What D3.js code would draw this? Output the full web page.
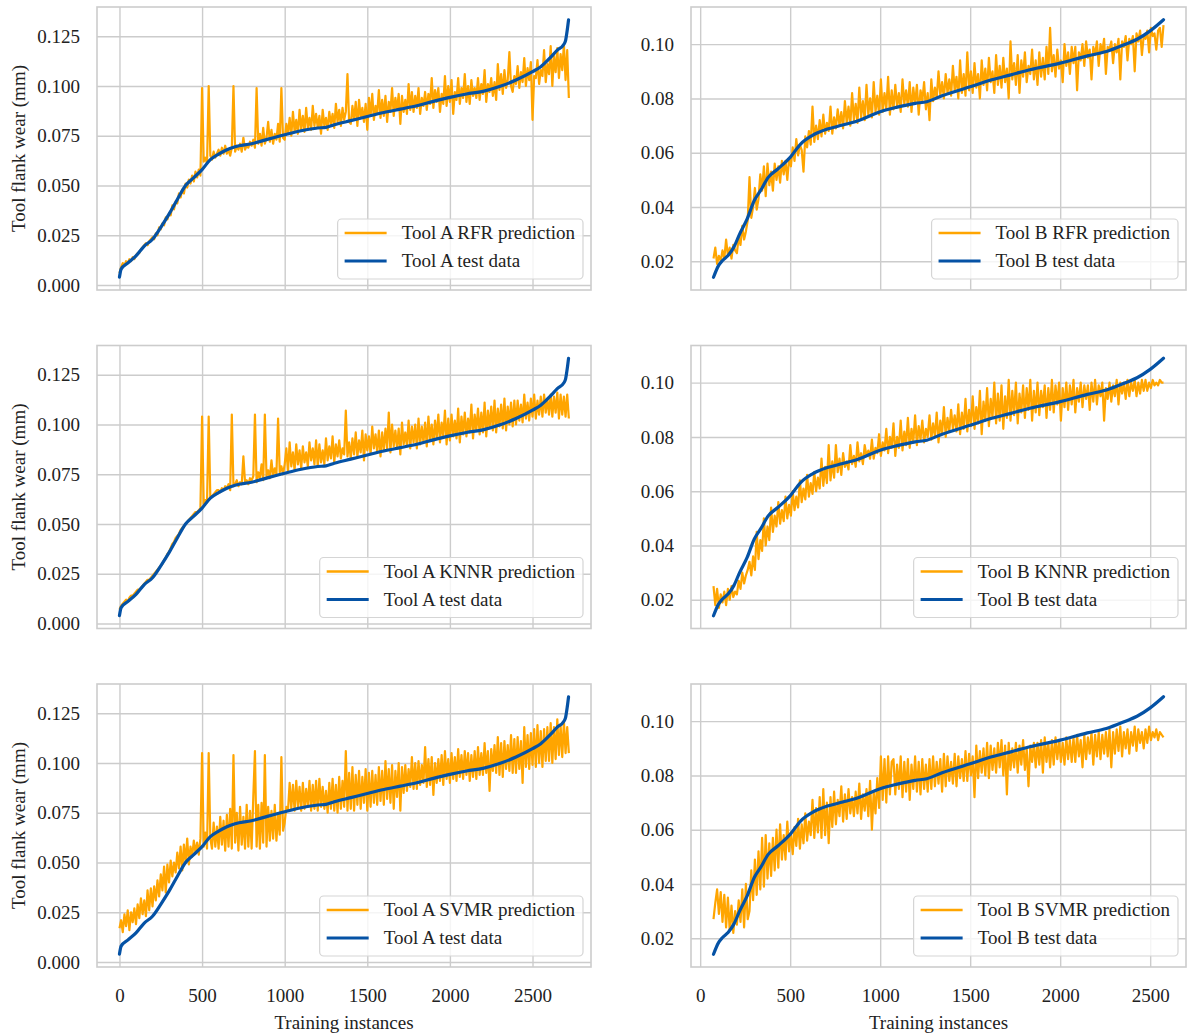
<!DOCTYPE html>
<html><head><meta charset="utf-8">
<script src="https://cdn.jsdelivr.net/npm/d3@7"></script>
<style>
html,body{margin:0;padding:0;background:#fff;}
svg{display:block;font-family:"Liberation Serif","Times New Roman",serif;}
</style></head>
<body><svg id="c" width="1192" height="1033"></svg>
<script>
// ---------- DATA ----------
const xTicks = [0, 500, 1000, 1500, 2000, 2500];
const yTicksA = [0, 0.025, 0.05, 0.075, 0.1, 0.125];
const yTicksB = [0.02, 0.04, 0.06, 0.08, 0.10];

// Tool A test data (blue)
const testAx = [0,10,50,100,150,200,250,300,350,400,450,500,550,600,650,700,800,900,1000,1100,1200,1250,1300,1400,1500,1600,1700,1800,1900,2000,2100,2200,2300,2400,2500,2550,2600,2650,2690,2700,2710,2718];
const testAy = [0.004,0.008,0.011,0.0146,0.0196,0.023,0.029,0.0356,0.043,0.050,0.054,0.058,0.063,0.0658,0.068,0.0695,0.071,0.0733,0.0755,0.0775,0.0789,0.0792,0.0805,0.0826,0.0847,0.0867,0.0884,0.0901,0.0923,0.0943,0.096,0.0973,0.0997,0.103,0.1072,0.1097,0.1136,0.118,0.121,0.1228,0.128,0.1332];

// Tool B test data (blue)
const testBx = [74,102,123,155,187,219,261,300,335,378,431,500,558,622,707,792,877,1000,1089,1195,1259,1344,1500,1620,1726,1832,2000,2151,2257,2363,2427,2500,2574];
const testBy = [0.0141,0.0184,0.0202,0.0221,0.0252,0.030,0.0356,0.0423,0.046,0.0509,0.054,0.0583,0.0632,0.0663,0.0687,0.0702,0.0718,0.0751,0.0767,0.0782,0.0788,0.081,0.0843,0.0869,0.0887,0.0906,0.093,0.0957,0.0973,0.100,0.1018,0.1049,0.109];

// predictions: Tool A read at instance 0,10,20,... ; Tool B at 74,84,94,...
const predAStart = 0, predAStep = 10;
const predBStart = 74, predBStep = 10;

const predA_RFR = [
0.006,0.009,0.011,0.010,0.012,0.011,0.013,0.012,0.014,0.013,0.015,0.016,0.016,0.018,0.019,0.020,0.021,0.020,0.022,0.023,
0.024,0.023,0.026,0.025,0.029,0.028,0.031,0.030,0.034,0.033,0.036,0.035,0.040,0.038,0.042,0.041,0.046,0.044,0.048,0.046,
0.051,0.049,0.053,0.051,0.055,0.052,0.057,0.054,0.058,0.055,0.099,0.062,0.064,0.061,0.100,0.065,0.063,0.067,0.064,0.066,
0.068,0.065,0.069,0.066,0.070,0.066,0.068,0.065,0.069,0.100,0.067,0.070,0.068,0.071,0.067,0.074,0.068,0.070,0.069,0.072,
0.070,0.073,0.069,0.099,0.071,0.076,0.070,0.079,0.071,0.074,0.082,0.072,0.078,0.071,0.076,0.073,0.081,0.072,0.099,0.074,
0.073,0.081,0.076,0.084,0.075,0.087,0.077,0.083,0.076,0.088,0.078,0.085,0.077,0.089,0.079,0.084,0.078,0.090,0.080,0.086,
0.079,0.085,0.076,0.088,0.080,0.084,0.078,0.087,0.081,0.086,0.079,0.091,0.082,0.088,0.080,0.089,0.083,0.087,0.106,0.082,
0.081,0.090,0.083,0.092,0.080,0.093,0.084,0.089,0.082,0.091,0.078,0.094,0.085,0.096,0.083,0.090,0.086,0.098,0.084,0.093,
0.085,0.095,0.082,0.092,0.087,0.099,0.085,0.094,0.088,0.096,0.081,0.095,0.087,0.093,0.086,0.101,0.088,0.097,0.087,0.095,
0.089,0.099,0.086,0.094,0.090,0.097,0.088,0.096,0.091,0.104,0.089,0.098,0.092,0.099,0.087,0.096,0.091,0.105,0.090,0.100,
0.092,0.103,0.086,0.097,0.093,0.104,0.091,0.099,0.094,0.106,0.092,0.100,0.091,0.103,0.095,0.099,0.094,0.104,0.093,0.101,
0.096,0.108,0.092,0.101,0.097,0.104,0.095,0.102,0.093,0.111,0.098,0.106,0.096,0.108,0.099,0.103,0.117,0.100,0.097,0.105,
0.101,0.110,0.099,0.107,0.102,0.114,0.100,0.109,0.103,0.112,0.083,0.105,0.104,0.113,0.101,0.108,0.105,0.118,0.102,0.111,
0.106,0.120,0.100,0.115,0.107,0.119,0.104,0.116,0.108,0.121,0.103,0.118,0.094];

const predA_KNNR = [
0.007,0.009,0.010,0.011,0.012,0.011,0.013,0.014,0.014,0.015,0.016,0.017,0.017,0.018,0.019,0.020,0.021,0.022,0.022,0.023,
0.024,0.025,0.026,0.027,0.028,0.029,0.030,0.032,0.033,0.035,0.036,0.038,0.040,0.041,0.043,0.044,0.045,0.047,0.048,0.049,
0.050,0.051,0.052,0.053,0.054,0.055,0.056,0.056,0.057,0.058,0.104,0.060,0.062,0.061,0.104,0.063,0.064,0.065,0.066,0.067,
0.067,0.066,0.068,0.067,0.069,0.068,0.070,0.067,0.105,0.069,0.070,0.072,0.069,0.071,0.070,0.084,0.071,0.072,0.070,0.073,
0.072,0.074,0.105,0.071,0.076,0.073,0.080,0.072,0.105,0.074,0.077,0.073,0.082,0.074,0.078,0.075,0.103,0.076,0.079,0.075,
0.080,0.088,0.076,0.091,0.079,0.086,0.077,0.090,0.080,0.087,0.078,0.089,0.081,0.086,0.079,0.091,0.082,0.088,0.080,0.092,
0.079,0.090,0.081,0.087,0.080,0.093,0.082,0.089,0.083,0.094,0.081,0.090,0.084,0.092,0.083,0.088,0.085,0.107,0.084,0.091,
0.083,0.093,0.085,0.096,0.084,0.092,0.086,0.097,0.082,0.095,0.087,0.094,0.085,0.099,0.088,0.095,0.086,0.097,0.084,0.096,
0.087,0.098,0.088,0.106,0.086,0.100,0.089,0.097,0.088,0.098,0.085,0.101,0.090,0.096,0.089,0.102,0.088,0.099,0.091,0.100,
0.088,0.103,0.090,0.099,0.091,0.101,0.089,0.104,0.092,0.100,0.090,0.102,0.093,0.105,0.091,0.101,0.094,0.107,0.090,0.103,
0.092,0.105,0.094,0.102,0.093,0.108,0.091,0.104,0.095,0.106,0.094,0.103,0.096,0.110,0.093,0.105,0.097,0.108,0.095,0.106,
0.096,0.111,0.094,0.107,0.098,0.109,0.097,0.112,0.096,0.108,0.099,0.110,0.098,0.113,0.097,0.109,0.100,0.111,0.099,0.112,
0.100,0.112,0.102,0.110,0.101,0.115,0.103,0.111,0.102,0.113,0.104,0.115,0.103,0.112,0.105,0.114,0.104,0.115,0.106,0.113,
0.105,0.115,0.104,0.114,0.106,0.116,0.103,0.115,0.105,0.114,0.104,0.115,0.103];

const predA_SVMR = [
0.017,0.021,0.015,0.024,0.018,0.026,0.016,0.025,0.020,0.027,0.019,0.029,0.022,0.032,0.024,0.031,0.023,0.036,0.026,0.037,
0.028,0.038,0.031,0.041,0.033,0.044,0.036,0.048,0.035,0.049,0.040,0.051,0.043,0.050,0.045,0.055,0.047,0.058,0.046,0.059,
0.050,0.062,0.049,0.058,0.053,0.061,0.055,0.060,0.054,0.062,0.105,0.058,0.065,0.057,0.105,0.062,0.057,0.070,0.058,0.068,
0.057,0.073,0.059,0.071,0.056,0.074,0.058,0.077,0.057,0.104,0.060,0.075,0.056,0.078,0.059,0.073,0.057,0.079,0.058,0.076,
0.057,0.083,0.106,0.058,0.079,0.057,0.080,0.060,0.104,0.058,0.078,0.061,0.076,0.062,0.079,0.061,0.074,0.064,0.103,0.066,
0.070,0.078,0.076,0.090,0.077,0.089,0.076,0.091,0.078,0.088,0.076,0.090,0.077,0.087,0.078,0.091,0.076,0.089,0.077,0.091,
0.076,0.092,0.078,0.088,0.077,0.086,0.075,0.090,0.077,0.092,0.076,0.089,0.075,0.093,0.077,0.091,0.078,0.106,0.076,0.095,
0.077,0.098,0.076,0.094,0.079,0.096,0.077,0.093,0.080,0.097,0.076,0.095,0.078,0.096,0.080,0.094,0.079,0.098,0.081,0.096,
0.079,0.101,0.082,0.097,0.080,0.099,0.077,0.096,0.083,0.100,0.076,0.098,0.085,0.099,0.086,0.097,0.088,0.103,0.087,0.100,
0.087,0.101,0.089,0.099,0.090,0.108,0.088,0.102,0.089,0.103,0.084,0.100,0.090,0.102,0.091,0.104,0.089,0.106,0.092,0.102,
0.090,0.105,0.092,0.103,0.091,0.107,0.093,0.104,0.092,0.106,0.094,0.105,0.091,0.104,0.093,0.106,0.092,0.108,0.094,0.105,
0.094,0.110,0.095,0.106,0.086,0.107,0.096,0.109,0.095,0.113,0.094,0.110,0.093,0.111,0.097,0.109,0.096,0.114,0.095,0.112,
0.095,0.113,0.097,0.111,0.090,0.118,0.098,0.114,0.097,0.115,0.099,0.117,0.098,0.119,0.100,0.116,0.098,0.117,0.101,0.118,
0.101,0.120,0.100,0.118,0.102,0.122,0.104,0.119,0.103,0.121,0.105,0.118,0.105];

const predB_RFR = [
0.021,0.025,0.019,0.022,0.020,0.024,0.021,0.028,0.022,0.025,0.021,0.026,0.024,0.023,0.029,0.026,0.033,0.028,0.031,0.035,
0.051,0.036,0.040,0.047,0.039,0.043,0.052,0.046,0.055,0.044,0.056,0.048,0.053,0.046,0.056,0.050,0.055,0.049,0.057,0.052,
0.057,0.050,0.058,0.055,0.062,0.057,0.065,0.059,0.063,0.061,0.053,0.066,0.062,0.068,0.063,0.077,0.064,0.070,0.065,0.072,
0.066,0.074,0.067,0.071,0.068,0.077,0.067,0.073,0.069,0.076,0.070,0.075,0.069,0.079,0.071,0.077,0.070,0.082,0.072,0.078,
0.071,0.084,0.073,0.079,0.072,0.085,0.074,0.080,0.073,0.086,0.075,0.081,0.074,0.087,0.075,0.082,0.076,0.088,0.074,0.083,
0.076,0.085,0.077,0.082,0.075,0.087,0.078,0.083,0.077,0.086,0.075,0.084,0.078,0.085,0.074,0.083,0.079,0.086,0.076,0.082,
0.072,0.087,0.079,0.084,0.080,0.090,0.081,0.086,0.080,0.089,0.082,0.087,0.081,0.092,0.083,0.088,0.080,0.094,0.082,0.089,
0.081,0.097,0.083,0.090,0.082,0.093,0.084,0.089,0.080,0.094,0.085,0.091,0.083,0.095,0.086,0.090,0.082,0.096,0.085,0.092,
0.084,0.095,0.086,0.091,0.080,0.101,0.087,0.093,0.085,0.096,0.082,0.094,0.088,0.097,0.086,0.092,0.089,0.098,0.087,0.094,
0.085,0.097,0.088,0.095,0.087,0.099,0.089,0.106,0.090,0.096,0.088,0.098,0.091,0.094,0.086,0.100,0.092,0.097,0.089,0.099,
0.093,0.099,0.083,0.097,0.094,0.100,0.092,0.101,0.095,0.098,0.087,0.099,0.096,0.101,0.092,0.100,0.097,0.102,0.089,0.099,
0.098,0.101,0.093,0.100,0.097,0.102,0.087,0.101,0.099,0.103,0.094,0.102,0.100,0.103,0.090,0.104,0.101,0.105,0.096,0.103,
0.102,0.105,0.097,0.106,0.103,0.104,0.098,0.105,0.106,0.099,0.107];

const predB_KNNR = [
0.025,0.018,0.024,0.017,0.022,0.019,0.023,0.018,0.024,0.020,0.025,0.021,0.023,0.022,0.027,0.024,0.030,0.026,0.029,0.031,
0.034,0.029,0.036,0.031,0.045,0.035,0.042,0.038,0.050,0.040,0.047,0.042,0.054,0.045,0.051,0.047,0.056,0.048,0.053,0.049,
0.058,0.050,0.055,0.051,0.060,0.053,0.058,0.054,0.064,0.056,0.061,0.057,0.066,0.058,0.063,0.059,0.067,0.060,0.065,0.061,
0.072,0.062,0.069,0.063,0.077,0.064,0.071,0.065,0.077,0.067,0.072,0.066,0.074,0.069,0.071,0.068,0.077,0.070,0.073,0.069,
0.078,0.071,0.074,0.070,0.077,0.073,0.075,0.072,0.079,0.072,0.076,0.074,0.081,0.073,0.078,0.075,0.083,0.074,0.080,0.076,
0.085,0.073,0.080,0.076,0.086,0.075,0.082,0.077,0.087,0.076,0.083,0.078,0.088,0.077,0.084,0.079,0.086,0.078,0.083,0.080,
0.088,0.079,0.085,0.080,0.089,0.078,0.086,0.081,0.091,0.080,0.087,0.082,0.090,0.083,0.088,0.082,0.092,0.081,0.089,0.083,
0.094,0.082,0.090,0.084,0.095,0.083,0.091,0.085,0.097,0.081,0.093,0.086,0.098,0.084,0.094,0.087,0.100,0.085,0.096,0.086,
0.099,0.083,0.095,0.087,0.101,0.086,0.097,0.088,0.100,0.085,0.096,0.089,0.099,0.087,0.098,0.090,0.101,0.086,0.097,0.089,
0.100,0.088,0.097,0.091,0.099,0.087,0.098,0.090,0.101,0.089,0.099,0.092,0.100,0.086,0.098,0.091,0.100,0.090,0.099,0.092,
0.101,0.089,0.098,0.093,0.100,0.091,0.099,0.094,0.099,0.090,0.100,0.093,0.101,0.092,0.099,0.095,0.100,0.086,0.098,0.094,
0.100,0.093,0.099,0.095,0.101,0.092,0.100,0.096,0.100,0.094,0.101,0.095,0.100,0.097,0.101,0.095,0.100,0.096,0.101,0.097,
0.101,0.097,0.100,0.098,0.101,0.099,0.100,0.099,0.101,0.100,0.100];

const predB_SVMR = [
0.027,0.033,0.038,0.029,0.037,0.026,0.036,0.024,0.035,0.023,0.032,0.022,0.030,0.025,0.034,0.026,0.038,0.024,0.040,0.027,
0.030,0.045,0.034,0.049,0.036,0.052,0.038,0.057,0.039,0.058,0.042,0.055,0.043,0.057,0.045,0.060,0.046,0.062,0.049,0.058,
0.049,0.063,0.052,0.059,0.051,0.061,0.054,0.064,0.053,0.062,0.055,0.066,0.056,0.063,0.058,0.071,0.057,0.068,0.059,0.072,
0.057,0.075,0.058,0.070,0.055,0.072,0.061,0.074,0.062,0.071,0.065,0.076,0.063,0.073,0.064,0.075,0.066,0.072,0.065,0.074,
0.066,0.077,0.064,0.073,0.067,0.075,0.065,0.078,0.060,0.074,0.066,0.079,0.068,0.087,0.071,0.086,0.070,0.087,0.073,0.085,
0.086,0.073,0.084,0.075,0.087,0.072,0.085,0.074,0.086,0.071,0.084,0.075,0.087,0.074,0.085,0.073,0.086,0.075,0.084,0.074,
0.086,0.075,0.087,0.076,0.085,0.077,0.086,0.074,0.088,0.076,0.087,0.078,0.085,0.077,0.088,0.076,0.087,0.079,0.086,0.078,
0.089,0.078,0.088,0.080,0.087,0.072,0.091,0.079,0.089,0.081,0.090,0.080,0.092,0.079,0.091,0.082,0.090,0.081,0.092,0.083,
0.093,0.080,0.091,0.073,0.092,0.082,0.090,0.083,0.092,0.081,0.091,0.084,0.093,0.082,0.090,0.076,0.091,0.085,0.092,0.083,
0.092,0.084,0.093,0.081,0.094,0.085,0.092,0.083,0.093,0.084,0.094,0.086,0.093,0.085,0.092,0.084,0.094,0.086,0.093,0.085,
0.094,0.085,0.095,0.087,0.093,0.083,0.095,0.086,0.094,0.088,0.096,0.084,0.095,0.087,0.096,0.086,0.095,0.088,0.096,0.087,
0.097,0.083,0.096,0.088,0.097,0.089,0.098,0.087,0.096,0.090,0.097,0.088,0.096,0.091,0.098,0.089,0.097,0.092,0.096,0.090,
0.097,0.092,0.098,0.093,0.096,0.094,0.097,0.093,0.096,0.095,0.094];

const panels = [
  {tool:"A", model:"RFR",  pred:predA_RFR,  row:0, col:0},
  {tool:"B", model:"RFR",  pred:predB_RFR,  row:0, col:1},
  {tool:"A", model:"KNNR", pred:predA_KNNR, row:1, col:0},
  {tool:"B", model:"KNNR", pred:predB_KNNR, row:1, col:1},
  {tool:"A", model:"SVMR", pred:predA_SVMR, row:2, col:0},
  {tool:"B", model:"SVMR", pred:predB_SVMR, row:2, col:1}
];

// ---------- LAYOUT / STYLE ----------
const colX = [97, 691], colW = [494, 495];
const rowY = [7, 345.5, 684], rowH = 283;
const ORANGE = "#FFA500", BLUE = "#0552A5", GRID = "#cccccc";
const FS = 19;

const svg = d3.select("#c");

panels.forEach(p => {
  const x0 = colX[p.col], y0 = rowY[p.row], w = colW[p.col], h = rowH;
  const isA = p.tool === "A";
  const xs = d3.scaleLinear().domain(isA ? [-136, 2854] : [-51, 2699]).range([x0, x0 + w]);
  const ys = d3.scaleLinear().domain(isA ? [-0.0025, 0.1397] : [0.0094, 0.1137]).range([y0 + h, y0]);
  const yt = isA ? yTicksA : yTicksB;
  const fmt = isA ? d3.format(".3f") : d3.format(".2f");
  const g = svg.append("g");

  g.append("g").attr("transform", `translate(0,${y0 + h})`)
    .call(d3.axisBottom(xs).tickValues(xTicks).tickSize(-h).tickFormat(p.row === 2 ? d3.format("d") : ""))
    .call(a => a.select(".domain").remove())
    .call(a => a.selectAll("line").attr("stroke", GRID).attr("stroke-width", 1.4))
    .call(a => a.selectAll("text").attr("font-size", FS).attr("fill", "#222")
      .attr("font-family", "Liberation Serif").attr("y", 22).attr("dy", "0.71em"));

  g.append("g").attr("transform", `translate(${x0},0)`)
    .call(d3.axisLeft(ys).tickValues(yt).tickSize(-w).tickFormat(fmt))
    .call(a => a.select(".domain").remove())
    .call(a => a.selectAll("line").attr("stroke", GRID).attr("stroke-width", 1.4))
    .call(a => a.selectAll("text").attr("font-size", FS).attr("fill", "#222")
      .attr("font-family", "Liberation Serif").attr("x", -17));

  g.append("rect").attr("x", x0).attr("y", y0).attr("width", w).attr("height", h)
    .attr("fill", "none").attr("stroke", GRID).attr("stroke-width", 1.6);

  const cid = "clip" + p.row + p.col;
  svg.append("clipPath").attr("id", cid).append("rect")
    .attr("x", x0).attr("y", y0).attr("width", w).attr("height", h);
  const plot = g.append("g").attr("clip-path", `url(#${cid})`);

  const start = isA ? predAStart : predBStart, step = isA ? predAStep : predBStep;
  const predLine = d3.line().x((d, i) => xs(start + i * step)).y(d => ys(d));
  plot.append("path").datum(p.pred).attr("d", predLine)
    .attr("fill", "none").attr("stroke", ORANGE).attr("stroke-width", 2.2).attr("stroke-linejoin", "round");

  const tx = isA ? testAx : testBx, ty = isA ? testAy : testBy;
  const testLine = d3.line().x(d => xs(d[0])).y(d => ys(d[1])).curve(d3.curveMonotoneX);
  plot.append("path").datum(tx.map((v, i) => [v, ty[i]])).attr("d", testLine)
    .attr("fill", "none").attr("stroke", BLUE).attr("stroke-width", 3.2).attr("stroke-linecap", "round");

  const labels = [`Tool ${p.tool} ${p.model} prediction`, `Tool ${p.tool} test data`];
  const lg = g.append("g");
  const box = lg.append("rect");
  const texts = labels.map(t => lg.append("text").text(t).attr("font-size", FS).attr("fill", "#222"));
  const tw = d3.max(texts, t => t.node().getComputedTextLength());
  const bw = 64 + tw + 8, bh = 60;
  const bx = x0 + w - 8 - bw, by = y0 + h - 11 - bh;
  box.attr("x", bx).attr("y", by).attr("width", bw).attr("height", bh).attr("rx", 4)
    .attr("fill", "#fff").attr("fill-opacity", 0.8).attr("stroke", "#d5d5d5").attr("stroke-width", 1.2);
  [ORANGE, BLUE].forEach((c, i) => {
    const yy = by + 14 + i * 28;
    lg.append("line").attr("x1", bx + 7).attr("x2", bx + 49).attr("y1", yy).attr("y2", yy)
      .attr("stroke", c).attr("stroke-width", i ? 3.2 : 2.6);
    texts[i].attr("x", bx + 64).attr("y", yy).attr("dy", "0.33em");
  });

  if (p.col === 0) {
    svg.append("text").attr("transform", `translate(25,${y0 + h / 2}) rotate(-90)`)
      .attr("text-anchor", "middle").attr("font-size", FS).attr("fill", "#222").text("Tool flank wear (mm)");
  }
  if (p.row === 2) {
    svg.append("text").attr("x", x0 + w / 2).attr("y", 1029).attr("text-anchor", "middle")
      .attr("font-size", FS).attr("fill", "#222").text("Training instances");
  }
});
</script></body></html>
